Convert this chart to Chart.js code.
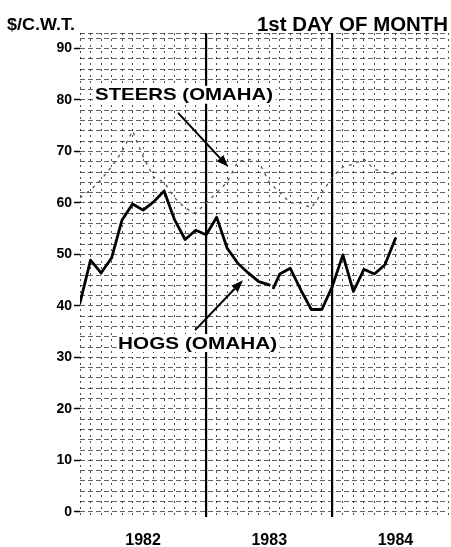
<!DOCTYPE html>
<html><head><meta charset="utf-8">
<script src="https://cdn.jsdelivr.net/npm/chart.js@4/dist/chart.umd.min.js"></script>
<style>html,body{margin:0;padding:0;background:#fff;overflow:hidden}#wrap{position:relative;width:451px;height:547px}</style>
</head><body><div id="wrap"><canvas id="c" width="451" height="547"></canvas></div>
<script>
// Months counted from Jan 1, 1982 (0) — 1st day of month
const hogsMonths = [0,1,2,3,4,5,6,7,8,9,10,11,12,13,14,15,16,17,18,18.2,18.4,19,20,21,22,23,24,25,26,27,28,29,30];
const hogsValues = [40.6,48.9,46.4,49.3,56.7,59.8,58.6,60.2,62.3,56.7,52.9,54.7,53.8,57.2,51.2,48.3,46.4,44.7,44.1,null,43.5,46.2,47.3,43.1,39.3,39.3,43.8,49.9,42.8,47.1,46.2,48.0,53.1];
const steersMonths = [0,1,2,3,4,5,6,7,8,9,10,11,12,13,14,15,16,17,18,19,20,21,22,23,24,25,26,27,28,29,30];
const steersValues = [61,62.5,64.5,67,70,74,69,65,64,61,59,58,60,62,64,68,68.5,68,64,62,60,60,59,62,65,67,67.5,68.5,66.5,66,65.5];
const yearLabels = ['1982','1983','1984'];
const yearTickMonths = [6,18,30];
const yearBoundaryMonths = [12,24];
const yTickLabels = [0,10,20,30,40,50,60,70,80,90];
const unitLabel = '$/C.W.T.';
const topLabel = '1st DAY OF MONTH';
const steersLabel = 'STEERS (OMAHA)';
const hogsLabel = 'HOGS (OMAHA)';

const toXY = (xs, ys) => xs.map((x, i) => ({x: x, y: ys[i]}));

function stretchText(ctx, text, x, y, font, width, align) {
  ctx.save();
  ctx.font = font;
  const w = ctx.measureText(text).width;
  const sx = width / w;
  ctx.translate(align === 'right' ? x - width : x, y);
  ctx.scale(sx, 1);
  ctx.textAlign = 'left';
  ctx.fillText(text, 0, 0);
  ctx.restore();
}
function arrow(ctx, x1, y1, x2, y2) {
  ctx.save();
  ctx.strokeStyle = '#000'; ctx.fillStyle = '#000'; ctx.lineWidth = 2;
  const a = Math.atan2(y2 - y1, x2 - x1);
  const hl = 12, hw = 4.5;
  const bx = x2 - hl * Math.cos(a), by = y2 - hl * Math.sin(a);
  ctx.beginPath(); ctx.moveTo(x1, y1); ctx.lineTo(bx, by); ctx.stroke();
  ctx.beginPath();
  ctx.moveTo(x2, y2);
  ctx.lineTo(bx + hw * Math.sin(a), by - hw * Math.cos(a));
  ctx.lineTo(bx - hw * Math.sin(a), by + hw * Math.cos(a));
  ctx.closePath(); ctx.fill();
  ctx.restore();
}

const notes = {
  id: 'notes',
  afterDatasetsDraw(chart) {
    const ctx = chart.ctx, xs = chart.scales.x, ys = chart.scales.y;
    const px = m => xs.getPixelForValue(m), py = v => ys.getPixelForValue(v);
    ctx.save();
    ctx.fillStyle = '#000';
    ctx.textBaseline = 'alphabetic';
    stretchText(ctx, unitLabel, 7, 30, 'bold 16px "Liberation Sans", Arial, sans-serif', 68, 'left');
    stretchText(ctx, topLabel, 448, 31, 'bold 20px "Liberation Sans", Arial, sans-serif', 191, 'right');
    ctx.fillStyle = '#fff';
    ctx.fillRect(px(1.3), py(81) - 9, 182, 18);
    ctx.fillRect(px(3.5), py(32.8) - 9, 163, 18);
    ctx.fillStyle = '#000';
    ctx.textBaseline = 'middle';
    stretchText(ctx, steersLabel, px(1.43), py(81) + 1, 'bold 17px "Liberation Sans", Arial, sans-serif', 178, 'left');
    stretchText(ctx, hogsLabel, px(3.62), py(32.8) + 1, 'bold 17px "Liberation Sans", Arial, sans-serif', 159, 'left');
    arrow(ctx, px(9.33), py(77.5), px(14.1), py(67.0));
    arrow(ctx, px(10.95), py(35.3), px(15.5), py(45.0));
    ctx.restore();
  }
};

new Chart(document.getElementById('c'), {
  type: 'line',
  data: {
    datasets: [
      {
        label: 'Steers (Omaha)',
        data: toXY(steersMonths, steersValues),
        borderColor: '#555', borderWidth: 1.3, borderDash: [3, 5],
        pointRadius: 0, tension: 0, fill: false
      },
      {
        label: 'Hogs (Omaha)',
        data: toXY(hogsMonths, hogsValues),
        borderColor: '#000', borderWidth: 2.8, spanGaps: false,
        pointRadius: 0, tension: 0, fill: false,
        borderJoinStyle: 'round', borderCapStyle: 'round'
      }
    ]
  },
  options: {
    responsive: false, animation: false, devicePixelRatio: 1,
    layout: {padding: {top: 33, right: 3, left: 0, bottom: 0}},
    plugins: {legend: {display: false}, tooltip: {enabled: false}},
    scales: {
      x: {
        type: 'linear', min: 0, max: 35,
        afterBuildTicks(s) { const t = []; for (let m = 0; m <= 35; m++) t.push({value: m}); s.ticks = t; },
        afterFit(s) { s.height = 30; s.paddingLeft = 0; s.paddingRight = 0; },
        ticks: {
          autoSkip: false, maxRotation: 0, padding: 14, color: '#000',
          font: {family: '"Liberation Sans", Arial, sans-serif', size: 16, weight: 'bold'},
          callback(v) { const i = yearTickMonths.indexOf(v); return i >= 0 ? yearLabels[i] : ''; }
        },
        grid: {
          drawTicks: false,
          color: c => (c.tick && yearBoundaryMonths.includes(c.tick.value)) ? '#000' : 'rgba(0,0,0,0.7)',
          lineWidth: c => (c.tick && yearBoundaryMonths.includes(c.tick.value)) ? 2.2 : 1
        },
        border: {display: false, dash: c => (c.tick && yearBoundaryMonths.includes(c.tick.value)) ? [] : [2, 4]}
      },
      y: {
        type: 'linear', min: -1, max: 93,
        afterBuildTicks(s) { const t = []; for (let v = 0; v <= 92; v += 2) t.push({value: v}); t.push({value: 93}); s.ticks = t; },
        afterFit(s) { s.width = 80; s.paddingTop = 0; s.paddingBottom = 0; },
        ticks: {
          autoSkip: false, padding: 2, color: '#000',
          font: {family: '"Liberation Sans", Arial, sans-serif', size: 14, weight: 'bold'},
          callback(v) { return yTickLabels.includes(v) ? String(v) : ''; }
        },
        grid: {
          tickLength: 6,
          tickColor: c => (c.tick && yTickLabels.includes(c.tick.value)) ? '#000' : 'rgba(0,0,0,0)',
          tickWidth: 1.5,
          color: 'rgba(0,0,0,0.62)', lineWidth: 1
        },
        border: {display: false, dash: [5, 3]}
      }
    }
  },
  plugins: [notes]
});
</script>
</body></html>
